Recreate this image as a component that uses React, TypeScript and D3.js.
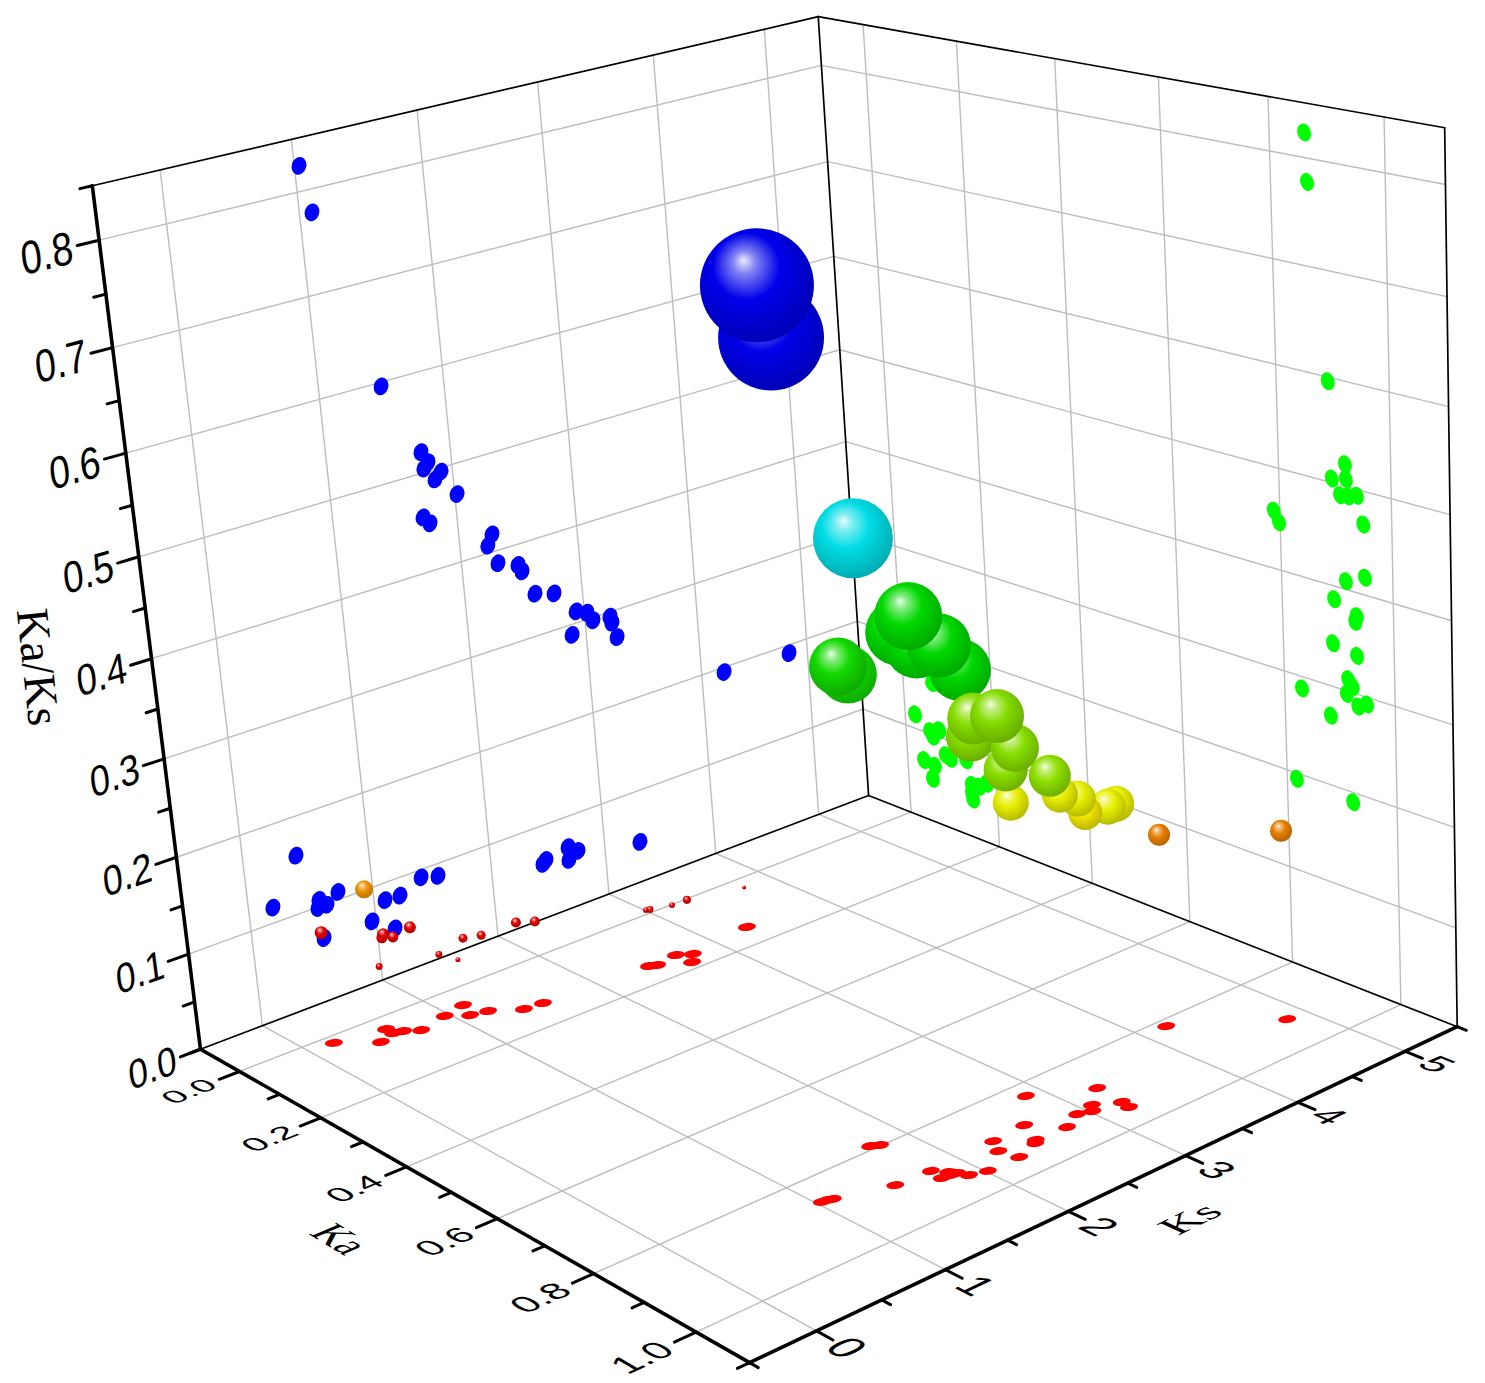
import * as d3 from 'd3';

const WIDTH = 1485;
const HEIGHT = 1383;

// camera matrix fitted to the box corners: [ka, ks, z, 1] -> pixel
const camera = [
  [359.26346, 129.70775, -135.3678, 301.83584],
  [80.73434, -25.904993, -1034.3802, 1047.409],
  [-0.132969, 0.0207574, -0.0838297, 1],
];

const kaRange = [-0.1, 1.1];
const ksRange = [-0.5, 5.5];
const zRange = [0, 0.85];

const kaTicks = [0, 0.2, 0.4, 0.6, 0.8, 1.0];
const kaMinor = [-0.1, 0.1, 0.3, 0.5, 0.7, 0.9, 1.1];
const ksTicks = [0, 1, 2, 3, 4, 5];
const ksMinor = [-0.5, 0.5, 1.5, 2.5, 3.5, 4.5, 5.5];
const zTicks = [0, 0.1, 0.2, 0.3, 0.4, 0.5, 0.6, 0.7, 0.8];
const zMinor = [0.05, 0.15, 0.25, 0.35, 0.45, 0.55, 0.65, 0.75, 0.85];

// projection on the floor: [Ka, Ks]
const floorPoints = [
  [0.021, 0.192], [0.067, 0.424], [0.038, 0.564], [0.056, 0.561], [0.061, 0.627], [0.077, 0.722], [0.064, 0.964], [0.054, 1.153],
  [0.088, 1.093], [0.096, 1.217], [0.128, 1.407], [0.132, 1.555], [0.145, 2.431], [0.151, 2.48], [0.144, 2.675], [0.159, 2.768],
  [0.18, 2.679], [0.144, 3.319], [0.861, 1.035], [0.862, 1.073], [0.865, 1.107], [0.894, 1.492], [0.791, 1.725], [0.798, 1.778],
  [0.898, 1.769], [0.922, 1.754], [0.916, 1.833], [0.926, 1.863], [0.924, 1.815], [0.941, 1.897], [0.95, 2.014], [0.895, 2.306],
  [0.92, 2.237], [0.951, 2.273], [0.891, 2.59], [0.932, 2.502], [0.938, 2.47], [0.935, 2.758], [0.832, 2.875], [0.918, 2.925],
  [0.913, 3.078], [0.926, 3.02], [0.883, 3.266], [0.935, 3.238], [0.952, 3.22], [0.817, 4.21], [0.92, 4.829],
];

// projection on the back left wall: [Ks, Ka/Ks]
const leftWallPoints = [
  [0.418, 0.16], [0.191, 0.116], [0.56, 0.107], [0.545, 0.099], [0.619, 0.099], [0.718, 0.108], [1.09, 0.082], [1.216, 0.081],
  [1.405, 0.092], [1.546, 0.087], [0.966, 0.065], [1.147, 0.049], [0.566, 0.066], [2.445, 0.059], [2.474, 0.062], [2.676, 0.067],
  [2.76, 0.059], [2.674, 0.053], [3.317, 0.044], [1.759, 0.521], [1.808, 0.509], [1.77, 0.504], [1.906, 0.496], [1.851, 0.49],
  [2.019, 0.469], [1.723, 0.456], [1.775, 0.448], [2.276, 0.418], [2.233, 0.408], [2.303, 0.387], [2.47, 0.379], [2.499, 0.371],
  [2.591, 0.344], [2.754, 0.338], [2.93, 0.312], [3.023, 0.307], [3.07, 0.297], [3.221, 0.295], [3.234, 0.288], [2.877, 0.289],
  [3.268, 0.271], [1.036, 0.824], [1.097, 0.778], [1.493, 0.596], [4.206, 0.195], [4.825, 0.191],
];

// projection on the back right wall: [Ka, Ka/Ks]
const rightWallPoints = [
  [0.92, 0.521], [0.921, 0.507], [0.896, 0.504], [0.91, 0.49], [0.924, 0.491], [0.94, 0.494], [0.789, 0.457], [0.798, 0.447],
  [0.95, 0.468], [0.917, 0.408], [0.951, 0.417], [0.895, 0.387], [0.935, 0.377], [0.932, 0.371], [0.891, 0.343], [0.934, 0.338],
  [0.917, 0.312], [0.925, 0.306], [0.914, 0.297], [0.934, 0.288], [0.95, 0.293], [0.832, 0.288], [0.884, 0.27], [0.818, 0.194],
  [0.921, 0.19], [0.862, 0.823], [0.865, 0.778], [0.893, 0.596], [0.023, 0.116], [0.056, 0.103], [0.062, 0.098], [0.077, 0.108],
  [0.038, 0.067], [0.062, 0.065], [0.056, 0.049], [0.089, 0.082], [0.1, 0.08], [0.135, 0.085], [0.145, 0.059], [0.161, 0.06],
  [0.146, 0.043], [0.179, 0.067], [0.144, 0.05], [0.067, 0.159], [0.085, 0.161],
];

// the points themselves, far ones first: [Ka, Ks, Ka/Ks]
const spherePoints = [
  [0.87, 1.078, 0.779], [0.925, 0.789, 0.838], [0.866, 1.601, 0.588], [0.732, 2.033, 0.426], [0.701, 2.083, 0.426], [0.843, 1.998, 0.485],
  [0.856, 2.084, 0.471], [0.913, 2.173, 0.456], [0.874, 2.183, 0.471], [0.854, 2.039, 0.5], [0.877, 3.568, 0.265], [0.876, 3.5, 0.265],
  [0.832, 3.504, 0.25], [0.828, 3.464, 0.265], [0.801, 3.433, 0.265], [0.773, 3.134, 0.265], [0.859, 3.096, 0.309], [0.841, 2.81, 0.324],
  [0.845, 2.522, 0.368], [0.874, 2.751, 0.353], [0.84, 2.57, 0.382], [0.898, 2.514, 0.397], [0.739, 4.581, 0.162], [0.851, 5.169, 0.162],
  [-0.011, 0.659, 0.132], [-0.034, 0.353, 0.096], [0.021, 0.893, 0.088], [0.002, 0.719, 0.081], [0.011, 0.78, 0.081], [0.013, 0.699, 0.088],
  [-0.003, 0.688, 0.051], [0.026, 1.088, 0.051], [0.023, 1.248, 0.037], [0.047, 1.23, 0.066], [0.058, 1.345, 0.066], [0.081, 1.565, 0.074],
  [0.098, 1.665, 0.074], [0.104, 2.592, 0.044], [0.125, 2.552, 0.051], [0.118, 2.771, 0.044], [0.159, 2.755, 0.059], [0.107, 3.461, 0.029],
];

// sphere size and colour both follow Ka/Ks
const radius = d3.scaleLinear().domain([0, 0.85]).range([0, 57.8]);
const sphereColor = d3.scaleLinear<string>()
  .domain([0, 0.096, 0.13, 0.16, 0.26, 0.31, 0.4, 0.43, 0.5, 0.588, 0.78])
  .range(['#e00000', '#e00000', '#ec9400', '#e67c00', '#f0f000', '#8ce000', '#84dc00', '#00d800', '#00d800', '#00dce4', '#0000e8']);

function project(ka: number, ks: number, z: number): [number, number] {
  const [a, b, c] = camera;
  const w = c[0] * ka + c[1] * ks + c[2] * z + c[3];
  return [
    (a[0] * ka + a[1] * ks + a[2] * z + a[3]) / w,
    (b[0] * ka + b[1] * ks + b[2] * z + b[3]) / w,
  ];
}

type P3 = [number, number, number];

function Seg({ from, to, stroke, width }: { from: P3; to: P3; stroke: string; width: number }) {
  const [x1, y1] = project(...from);
  const [x2, y2] = project(...to);
  return <line x1={x1} y1={y1} x2={x2} y2={y2} stroke={stroke} strokeWidth={width} strokeLinecap="round" />;
}

// text lying in a plane of the box: one em spans xDir along the baseline and upDir upwards
function PlaneText({ at, xDir, upDir, text, font }: { at: P3; xDir: P3; upDir: P3; text: string; font: string }) {
  const [ox, oy] = project(...at);
  const [xx, xy] = project(at[0] + xDir[0], at[1] + xDir[1], at[2] + xDir[2]);
  const [ux, uy] = project(at[0] + upDir[0], at[1] + upDir[1], at[2] + upDir[2]);
  const m = [(xx - ox) / 100, (xy - oy) / 100, (ox - ux) / 100, (oy - uy) / 100, ox, oy];
  return (
    <text transform={`matrix(${m.join(' ')})`} fontFamily={font} fontSize={100} textAnchor="middle" dy="0.35em" fill="#000">
      {text}
    </text>
  );
}

const SANS = '"Liberation Sans", Arial, sans-serif';
const SERIF = '"Liberation Serif", "Times New Roman", serif';
const GRID = '#bdbdbd';

export default function App() {
  const [kaMin, kaMax] = kaRange;
  const [ksMin, ksMax] = ksRange;
  const [zMin, zMax] = zRange;

  const grid: [P3, P3][] = [
    ...ksTicks.flatMap(k => [
      [[kaMin, k, zMin], [kaMin, k, zMax]] as [P3, P3],
      [[kaMin, k, zMin], [kaMax, k, zMin]] as [P3, P3],
    ]),
    ...kaTicks.flatMap(a => [
      [[a, ksMax, zMin], [a, ksMax, zMax]] as [P3, P3],
      [[a, ksMin, zMin], [a, ksMax, zMin]] as [P3, P3],
    ]),
    ...zTicks.slice(1).flatMap(z => [
      [[kaMin, ksMin, z], [kaMin, ksMax, z]] as [P3, P3],
      [[kaMin, ksMax, z], [kaMax, ksMax, z]] as [P3, P3],
    ]),
  ];

  const box: [P3, P3][] = [
    [[kaMin, ksMin, zMin], [kaMin, ksMax, zMin]],
    [[kaMin, ksMax, zMin], [kaMax, ksMax, zMin]],
    [[kaMin, ksMax, zMin], [kaMin, ksMax, zMax]],
    [[kaMin, ksMin, zMax], [kaMin, ksMax, zMax]],
    [[kaMin, ksMax, zMax], [kaMax, ksMax, zMax]],
    [[kaMax, ksMax, zMin], [kaMax, ksMax, zMax]],
  ];

  const axes: [P3, P3][] = [
    [[kaMin, ksMin, zMin], [kaMin, ksMin, zMax]],
    [[kaMin, ksMin, zMin], [kaMax, ksMin, zMin]],
    [[kaMax, ksMin, zMin], [kaMax, ksMax, zMin]],
  ];

  const ticks: [P3, P3][] = [
    ...zTicks.map(z => [[kaMin, ksMin, z], [kaMin, ksMin - 0.16, z]] as [P3, P3]),
    ...zMinor.map(z => [[kaMin, ksMin, z], [kaMin, ksMin - 0.09, z]] as [P3, P3]),
    ...kaTicks.map(a => [[a, ksMin, zMin], [a, ksMin - 0.16, zMin]] as [P3, P3]),
    ...kaMinor.map(a => [[a, ksMin, zMin], [a, ksMin - 0.09, zMin]] as [P3, P3]),
    ...ksTicks.map(k => [[kaMax, k, zMin], [kaMax + 0.03, k, zMin]] as [P3, P3]),
    ...ksMinor.map(k => [[kaMax, k, zMin], [kaMax + 0.016, k, zMin]] as [P3, P3]),
  ];

  return (
    <svg width={WIDTH} height={HEIGHT} style={{ position: 'absolute', left: 0, top: 0, background: '#fff' }}>
      <defs>
        {spherePoints.map((d, i) => {
          const base = sphereColor(d[2]);
          const toWhite = d3.interpolateRgb(base, '#ffffff');
          return (
            <radialGradient key={i} id={`sphere-${i}`} cx="0.44" cy="0.4" r="0.64" fx="0.38" fy="0.28">
              <stop offset="0" stopColor={toWhite(0.92)} />
              <stop offset="0.16" stopColor={toWhite(0.5)} />
              <stop offset="0.46" stopColor={base} />
              <stop offset="1" stopColor={d3.rgb(base).darker(0.75).formatHex()} />
            </radialGradient>
          );
        })}
      </defs>

      <g>{grid.map(([a, b], i) => <Seg key={i} from={a} to={b} stroke={GRID} width={1.4} />)}</g>
      <g>{box.map(([a, b], i) => <Seg key={i} from={a} to={b} stroke="#000" width={1.7} />)}</g>

      <g fill="#ff0000">
        {floorPoints.map(([ka, ks], i) => {
          const [x, y] = project(ka, ks, zMin);
          return <ellipse key={i} cx={x} cy={y} rx={9} ry={4} transform={`rotate(-6 ${x} ${y})`} />;
        })}
      </g>
      <g fill="#0000ff">
        {leftWallPoints.map(([ks, z], i) => {
          const [x, y] = project(kaMin, ks, z);
          return <ellipse key={i} cx={x} cy={y} rx={7.3} ry={9} transform={`rotate(18 ${x} ${y})`} />;
        })}
      </g>
      <g fill="#00ff00">
        {rightWallPoints.map(([ka, z], i) => {
          const [x, y] = project(ka, ksMax, z);
          return <ellipse key={i} cx={x} cy={y} rx={6.7} ry={9.2} transform={`rotate(-18 ${x} ${y})`} />;
        })}
      </g>

      <g>{axes.map(([a, b], i) => <Seg key={i} from={a} to={b} stroke="#000" width={3.6} />)}</g>
      <g>{ticks.map(([a, b], i) => <Seg key={i} from={a} to={b} stroke="#000" width={3} />)}</g>

      <g>
        {zTicks.map(z => (
          <PlaneText key={z} at={[kaMin, ksMin - 0.38, z]} xDir={[0, 0.27, 0]} upDir={[0, 0, 0.042]} text={z.toFixed(1)} font={SANS} />
        ))}
        {kaTicks.map(a => (
          <PlaneText key={a} at={[a, ksMin - 0.4, zMin]} xDir={[0, 0.26, 0]} upDir={[-0.058, 0, 0]} text={a.toFixed(1)} font={SANS} />
        ))}
        {ksTicks.map(k => (
          <PlaneText key={k} at={[kaMax + 0.055, k, zMin]} xDir={[0.065, 0, 0]} upDir={[0, 0.31, 0]} text={String(k)} font={SANS} />
        ))}
        <PlaneText at={[0.5, -1.33, zMin]} xDir={[0.07, 0, 0]} upDir={[0, 0.31, 0]} text="Ka" font={SERIF} />
        <PlaneText at={[1.22, 2.44, zMin]} xDir={[0, 0.36, 0]} upDir={[-0.06, 0, 0]} text="Ks" font={SERIF} />
        <text transform="translate(38 667) rotate(84)" fontFamily={SERIF} fontSize={46} textAnchor="middle" dy="0.33em" fill="#000">
          Ka/Ks
        </text>
      </g>

      <g>
        {spherePoints.map((d, i) => {
          const [x, y] = project(d[0], d[1], d[2]);
          return <circle key={i} cx={x} cy={y} r={radius(d[2])} fill={`url(#sphere-${i})`} />;
        })}
      </g>
    </svg>
  );
}
